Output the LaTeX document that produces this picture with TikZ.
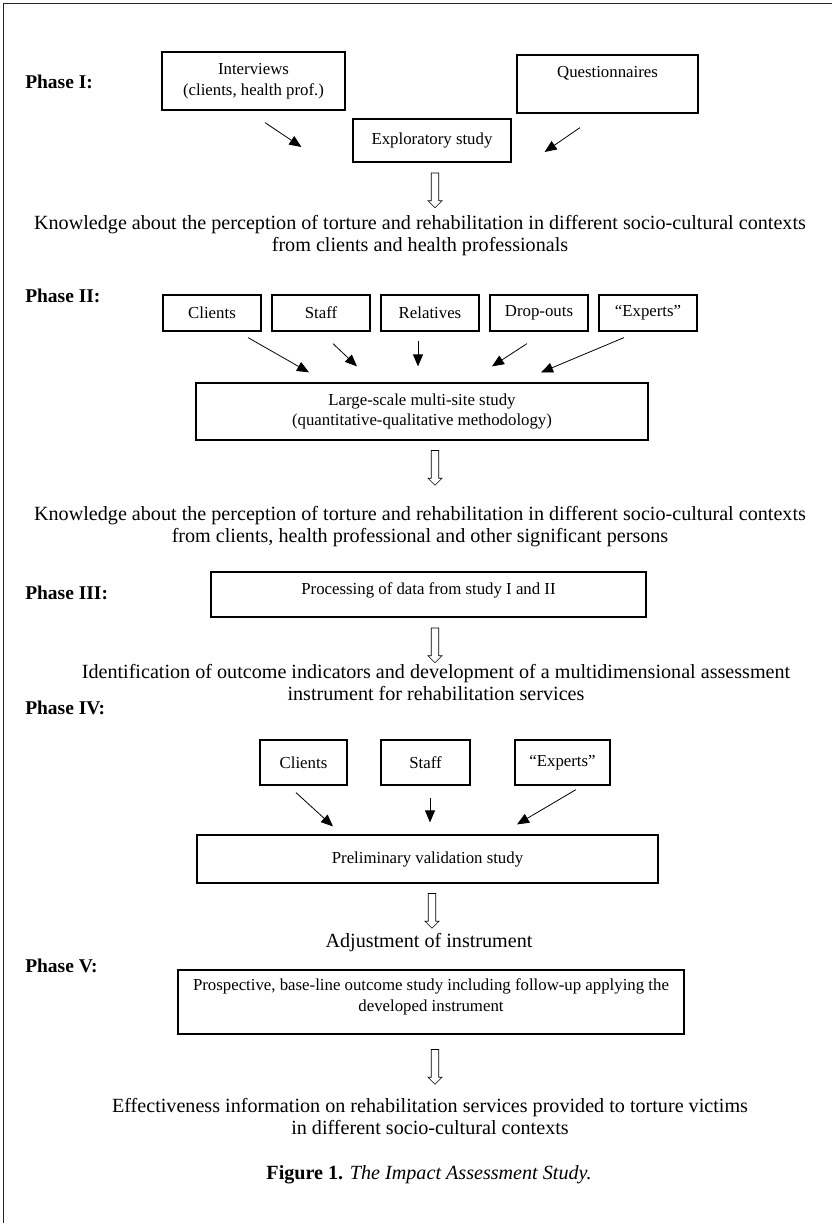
\documentclass[tikz,border=0pt]{standalone}
\usepackage{fontspec}
\setmainfont{Liberation Serif}
\usetikzlibrary{arrows.meta,shapes.arrows}

\tikzset{
  box/.style={draw, line width=0.9pt, align=center, inner sep=0pt,
    font=\fontsize{12.6}{15.5}\selectfont},
  phase/.style={anchor=west, inner sep=0pt, font=\fontsize{14.6}{16}\selectfont\bfseries},
  result/.style={align=center, inner sep=0pt, font=\fontsize{15.1}{16.5}\selectfont},
  feed/.style={-{Triangle[length=9pt,width=7.5pt]}, line width=0.6pt},
  hollow/.style={draw, single arrow, shape border rotate=270, minimum height=26pt,
    minimum width=10pt, single arrow head extend=2.4pt, inner sep=2.6pt,
    line width=0.5pt}
}

\begin{document}
\begin{tikzpicture}[x=0.75pt,y=-0.75pt]
\useasboundingbox (0,0) rectangle (832,1223);
\draw[line width=1.1pt, black!85] (3.5,1223) -- (3.5,3.5) -- (832,3.5);

% Phase I
\node[phase] (p1) at (25,82) {Phase I:};
\node[box, minimum width=137.25pt, minimum height=43.5pt] (intv) at (253.5,81) {Interviews\\(clients, health prof.)};
\node[box, minimum width=135.75pt, minimum height=43.5pt, text depth=18pt] (quest) at (607.5,84) {Questionnaires};
\node[box, minimum width=118.5pt, minimum height=32.25pt] (explo) at (432,140.5) {Exploratory study};
\draw[feed] ([shift={(11.5,12)}]intv.south) -- ([shift={(-51,6.5)}]explo.west);
\draw[feed] ([shift={(-27.5,14)}]quest.south) -- ([shift={(33,11.5)}]explo.east);
\node[hollow] (h1) at (435,188.5) {};
\node[result] (know1) at (420,236) {Knowledge about the perception of torture and rehabilitation in different socio-cultural contexts\\from clients and health professionals};

% Phase II
\node[phase] (p2) at (25,296) {Phase II:};
\node[box, minimum width=73.5pt, minimum height=27pt] (cli) at (212,313) {Clients};
\node[box, minimum width=73.5pt, minimum height=27pt] (sta) at (321,313) {Staff};
\node[box, minimum width=73.5pt, minimum height=27pt] (rel) at (430,313) {Relatives};
\node[box, minimum width=73.5pt, minimum height=27pt] (drop) at (539,313) {Drop-outs};
\node[box, minimum width=73.5pt, minimum height=27pt] (exp) at (648,313) {``Experts''};
\node[box, minimum width=339pt, minimum height=42.75pt] (large) at (422,411.5) {Large-scale multi-site study\\(quantitative-qualitative methodology)};
\draw[feed] ([shift={(36,6)}]cli.south) -- ([shift={(-113,-10)}]large.north);
\draw[feed] ([shift={(12,12)}]sta.south) -- ([shift={(-65,-16)}]large.north);
\draw[feed] ([shift={(-12,9)}]rel.south) -- ([shift={(-4,-16)}]large.north);
\draw[feed] ([shift={(-12,12)}]drop.south) -- ([shift={(70,-16)}]large.north);
\draw[feed] ([shift={(-24,6)}]exp.south) -- ([shift={(119,-10)}]large.north);
\node[hollow] (h2) at (435,466) {};
\node[result] (know2) at (420,527) {Knowledge about the perception of torture and rehabilitation in different socio-cultural contexts\\from clients, health professional and other significant persons};

% Phase III
\node[phase] (p3) at (25,593) {Phase III:};
\node[box, minimum width=326.25pt, minimum height=33.75pt, text depth=9.5pt] (proc) at (428.5,594.5) {Processing of data from study I and II};
\node[hollow] (h3) at (435,643.5) {};
\node[result] (ident) at (436,683) {Identification of outcome indicators and development of a multidimensional assessment\\instrument for rehabilitation services};

% Phase IV
\node[phase] (p4) at (25,708) {Phase IV:};
\node[box, minimum width=65.25pt, minimum height=33.75pt] (cli4) at (303.5,762.5) {Clients};
\node[box, minimum width=66.75pt, minimum height=33.75pt] (sta4) at (425.5,762.5) {Staff};
\node[box, minimum width=71.25pt, minimum height=33.75pt] (exp4) at (562.5,762.5) {``Experts''};
\node[box, minimum width=345.75pt, minimum height=36pt] (prelim) at (427.5,859) {Preliminary validation study};
\draw[feed] ([shift={(-7.5,7)}]cli4.south) -- ([shift={(-94.5,-8)}]prelim.north);
\draw[feed] ([shift={(4.5,12)}]sta4.south) -- ([shift={(2.5,-12)}]prelim.north);
\draw[feed] ([shift={(13.5,4)}]exp4.south) -- ([shift={(89.5,-10)}]prelim.north);
\node[hollow] (h4) at (432,909) {};
\node[result] (adj) at (429,943) {Adjustment of instrument};

% Phase V
\node[phase] (p5) at (25,966) {Phase V:};
\node[box, minimum width=379.5pt, minimum height=48pt, text depth=10pt] (prosp) at (431,1002) {Prospective, base-line outcome study including follow-up applying the\\developed instrument};
\node[hollow] (h5) at (435,1065) {};
\node[result] (eff) at (430,1116) {Effectiveness information on rehabilitation services provided to torture victims\\in different socio-cultural contexts};

\node[inner sep=0pt, font=\fontsize{15.1}{16.5}\selectfont] (cap) at (429,1175) {\textbf{Figure 1.} \textit{The Impact Assessment Study.}};
\end{tikzpicture}
\end{document}
